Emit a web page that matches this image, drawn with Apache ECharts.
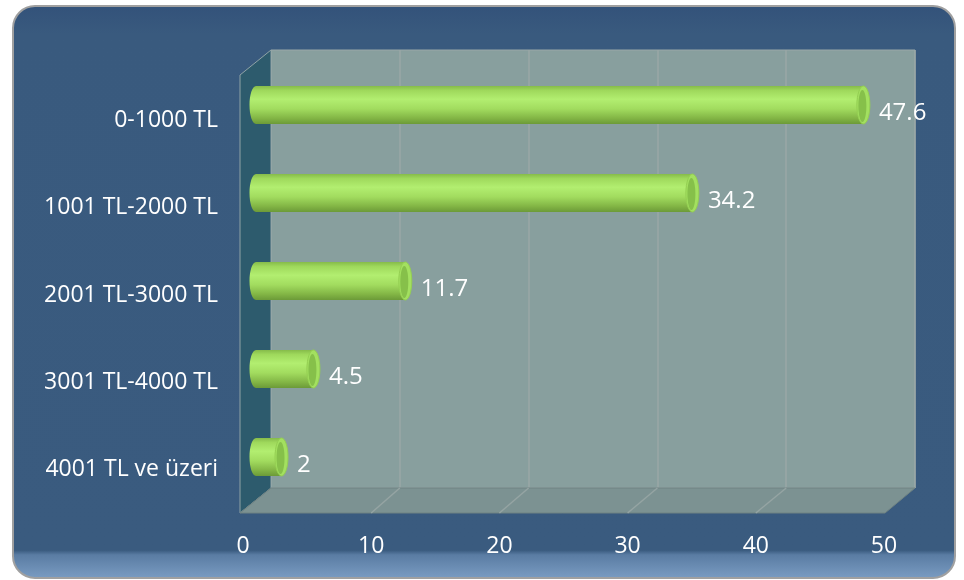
<!DOCTYPE html>
<html>
<head>
<meta charset="utf-8">
<script src="https://cdn.jsdelivr.net/npm/echarts@6/dist/echarts.min.js"></script>
<style>html,body{margin:0;padding:0;background:#fff;}#c{width:964px;height:580px;}</style>
</head>
<body>
<div id="c"></div>
<script>
var categories = ['0-1000 TL', '1001 TL-2000 TL', '2001 TL-3000 TL', '3001 TL-4000 TL', '4001 TL ve üzeri'];
var values = [47.6, 34.2, 11.7, 4.5, 2];
var axisMin = 0, axisMax = 50, axisStep = 10;

var FONT = 'Open Sans';
var chart = echarts.init(document.getElementById('c'), null, {renderer: 'canvas'});

var barGrad = {
  type: 'linear', x: 0, y: 0, x2: 0, y2: 1,
  colorStops: [
    {offset: 0, color: '#86bb4a'},
    {offset: 0.12, color: '#9fd95c'},
    {offset: 0.35, color: '#b2ee70'},
    {offset: 0.6, color: '#a2dc5f'},
    {offset: 0.85, color: '#82b545'},
    {offset: 1, color: '#6c9a38'}
  ]
};

function renderBar(params, api) {
  var cat = api.value(0), v = api.value(1);
  var s = api.coord([0, cat]);
  var e = api.coord([v, cat]);
  var h = 38, rx = 6.5;
  var y0 = s[1] - h / 2;
  return {
    type: 'group',
    children: [
      {type: 'ellipse', shape: {cx: s[0], cy: s[1], rx: rx, ry: h / 2}, style: {fill: barGrad}},
      {type: 'rect', shape: {x: s[0], y: y0, width: Math.max(e[0] - s[0], 0), height: h}, style: {fill: barGrad}},
      {type: 'ellipse', shape: {cx: e[0], cy: e[1], rx: rx, ry: h / 2}, style: {fill: '#a3e060', stroke: '#94cf52', lineWidth: 1}},
      {type: 'ellipse', shape: {cx: e[0] - 1, cy: e[1] + 1, rx: rx - 2.5, ry: h / 2 - 3}, style: {fill: '#86c04a'}},
      {type: 'text', style: {text: String(v), x: e[0] + rx + 9, y: e[1] + 8, fill: '#ffffff', font: '24px "' + FONT + '"', verticalAlign: 'middle', align: 'left'}}
    ]
  };
}

var option = {
  animation: false,
  backgroundColor: '#ffffff',
  graphic: [
    {type: 'rect', z: -10, shape: {x: 13, y: 6, width: 942, height: 572, r: 22},
     style: {fill: {type: 'linear', x: 0, y: 0, x2: 0, y2: 1, colorStops: [
       {offset: 0, color: '#33527a'}, {offset: 0.05, color: '#395a7e'}, {offset: 0.95, color: '#3a5b7f'},
       {offset: 0.958, color: '#5a7ca3'}, {offset: 1, color: '#7b9dc3'}]},
       stroke: '#a0a0a0', lineWidth: 2}},
    {type: 'polygon', z: -5, shape: {points: [[240, 75], [271, 50], [271, 488], [240, 513]]},
     style: {fill: '#2d5b6d', stroke: '#8fa3a6', lineWidth: 1}},
    {type: 'polygon', z: -5, shape: {points: [[271, 488], [915, 488], [885, 513], [240, 513]]},
     style: {fill: '#7c9292', stroke: '#6f8282', lineWidth: 1}}
  ],
  grid: [
    {left: 271, right: 49, top: 50, bottom: 92, show: true, backgroundColor: '#889f9e', borderColor: '#9aa8a8', borderWidth: 1, z: -6},
    {left: 243, right: 80, top: 77, bottom: 67, show: false},
    {left: 256, right: 70, top: 61, bottom: 79, show: false}
  ],
  xAxis: [
    {gridIndex: 0, type: 'value', min: axisMin, max: axisMax, interval: axisStep,
     axisLabel: {show: false}, axisLine: {show: false}, axisTick: {show: false},
     splitLine: {show: true, lineStyle: {color: '#9aa7a6', width: 1.5}}, z: -6},
    {gridIndex: 1, type: 'value', min: axisMin, max: axisMax, interval: axisStep,
     axisLabel: {show: true, color: '#ffffff', fontFamily: FONT, fontSize: 23, margin: 22},
     axisLine: {show: false}, axisTick: {show: false}, splitLine: {show: false}},
    {gridIndex: 2, type: 'value', min: axisMin, max: axisMax, interval: axisStep, show: false}
  ],
  yAxis: [
    {gridIndex: 0, type: 'category', data: categories, inverse: true, show: false},
    {gridIndex: 1, type: 'category', data: categories, inverse: true,
     axisLabel: {color: '#ffffff', fontFamily: FONT, fontSize: 23, margin: 25},
     axisLine: {show: false}, axisTick: {show: false}, splitLine: {show: false}},
    {gridIndex: 2, type: 'category', data: categories, inverse: true, show: false}
  ],
  series: [
    {type: 'custom', xAxisIndex: 2, yAxisIndex: 2, renderItem: renderBar,
     data: values.map(function (v, i) { return [i, v]; }), z: 5}
  ]
};
chart.setOption(option);

// floor grid lines: connect back-wall ticks to front-axis ticks
var extra = [];
for (var t = axisMin + axisStep; t < axisMax; t += axisStep) {
  var bx = chart.convertToPixel({xAxisIndex: 0}, t);
  var fx = chart.convertToPixel({xAxisIndex: 1}, t);
  extra.push({type: 'line', z: -4, shape: {x1: bx, y1: 488, x2: fx, y2: 513}, style: {stroke: '#95a4a3', lineWidth: 1.5}});
}
chart.setOption({graphic: option.graphic.concat(extra)});
</script>
</body>
</html>
